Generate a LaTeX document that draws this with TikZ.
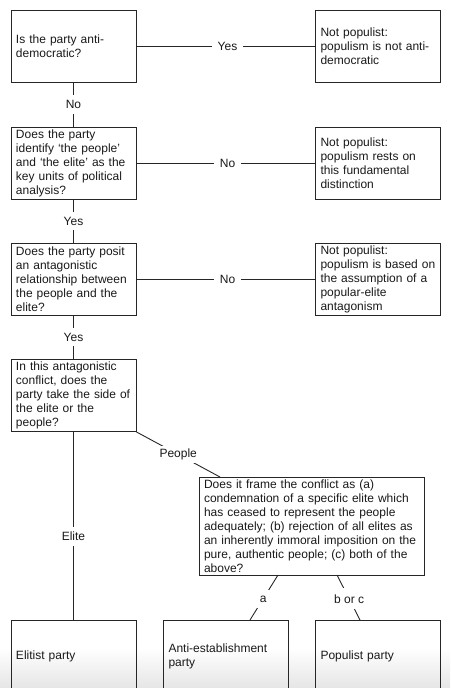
\documentclass[tikz,border=0pt]{standalone}
\usepackage{fontspec}
\setmainfont{Liberation Sans}
\begin{document}
\begin{tikzpicture}[x=1pt,y=-1pt,
  box/.style={draw=black!85, line width=0.9pt, rectangle, inner xsep=5pt, inner ysep=0pt,
    minimum width=125pt, minimum height=72pt, text width=115pt, align=left,
    font=\fontsize{12}{14}\selectfont, text=black!90, anchor=center},
  widebox/.style={box, minimum width=225pt, minimum height=98pt, text width=215pt},
  conn/.style={draw=black!85, line width=0.9pt},
  lab/.style={fill=white, inner xsep=6pt, inner ysep=5pt, font=\fontsize{12}{14}\selectfont, text=black!90}]
\useasboundingbox (0,0) rectangle (450,688);
\begin{scope}
\clip (0,0) rectangle (450,688);
\shade[top color=white, bottom color=black!10] (0,648) rectangle (450,688);
% left column
\node[box] (b1) at (73.5,46) {Is the party anti-\\democratic?};
\node[box] (b2) at (73.5,163) {Does the party\\identify ‘the people’\\and ‘the elite’ as the\\key units of political\\analysis?};
\node[box] (b3) at (73.5,279) {Does the party posit\\an antagonistic\\relationship between\\the people and the\\elite?};
\node[box] (b4) at (73.5,395.5) {In this antagonistic\\conflict, does the\\party take the side of\\the elite or the\\people?};
% right column
\node[box] (r1) at (378,46) {Not populist:\\populism is not anti-\\democratic};
\node[box] (r2) at (378,163) {Not populist:\\populism rests on\\this fundamental\\distinction};
\node[box] (r3) at (378,279) {Not populist:\\populism is based on\\the assumption of a\\popular-elite\\antagonism};
% framing question
\node[widebox] (b5) at (311.5,526) {Does it frame the conflict as (a)\\condemnation of a specific elite which\\has ceased to represent the people\\adequately; (b) rejection of all elites as\\an inherently immoral imposition on the\\pure, authentic people; (c) both of the\\above?};
% outcomes
\node[box] (e) at (73.5,656) {Elitist party};
\node[box] (ae) at (226,656) {Anti-establishment\\party};
\node[box] (p) at (378,656) {Populist party};
% connector end points
\coordinate (b5p) at (220,477);
\coordinate (a1) at (278,575);
\coordinate (a2) at (250,620);
\coordinate (c1) at (337,575);
\coordinate (c2) at (360,620);
% connectors
\draw[conn] (b1.east) -- node[lab, pos=0.51] {Yes} (r1.west);
\draw[conn] (b1.south) -- node[lab] {No} (b2.north);
\draw[conn] (b2.east) -- node[lab, pos=0.51] {No} (r2.west);
\draw[conn] (b2.south) -- node[lab] {Yes} (b3.north);
\draw[conn] (b3.east) -- node[lab, pos=0.51] {No} (r3.west);
\draw[conn] (b3.south) -- node[lab] {Yes} (b4.north);
\draw[conn] (b4.south east) -- node[lab, inner xsep=3pt, inner ysep=3pt] {People} (b5p);
\draw[conn] (b4.south) -- node[lab, pos=0.556] {Elite} (e.north);
\draw[conn] (a1) -- node[lab, pos=0.53, inner xsep=3pt, inner ysep=6pt] {a} (a2);
\draw[conn] (c1) -- node[lab, pos=0.53, inner xsep=3pt, inner ysep=6pt] {b or c} (c2);
\end{scope}
\end{tikzpicture}
\end{document}
